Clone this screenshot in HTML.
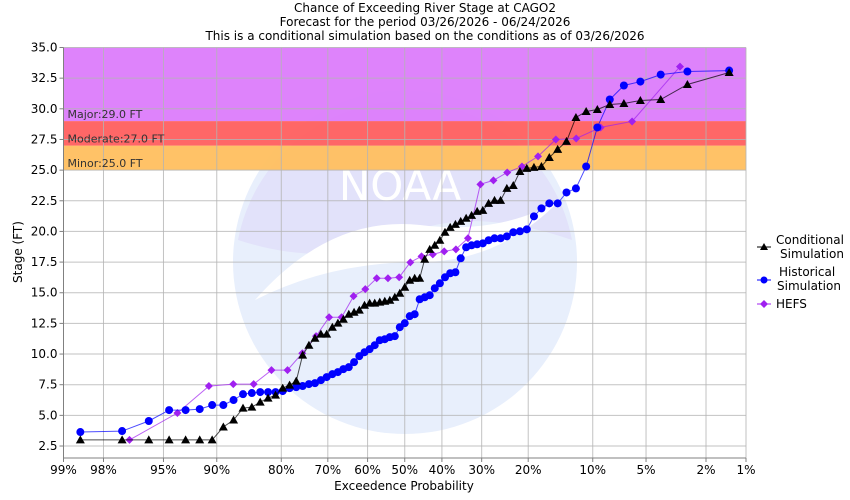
<!DOCTYPE html>
<html><head><meta charset="utf-8"><style>
html,body{margin:0;padding:0;background:#fff;}
svg{display:block;font-family:"DejaVu Sans","Liberation Sans",sans-serif;}
</style></head><body>
<svg id="chart" width="850" height="500" viewBox="0 0 850 500">
<g font-size="12" text-anchor="middle" fill="#000">
<text x="425" y="12">Chance of Exceeding River Stage at CAGO2</text>
<text x="425" y="26">Forecast for the period 03/26/2026 - 06/24/2026</text>
<text x="425" y="40">This is a conditional simulation based on the conditions as of 03/26/2026</text>
</g>
<g id="plot"></g>
<text x="404" y="490" font-size="12" text-anchor="middle">Exceedence Probability</text>
<text transform="translate(22,252) rotate(-90)" font-size="12" text-anchor="middle">Stage (FT)</text>
<g font-size="12" fill="#000">
<g>
<line x1="757" y1="247" x2="771" y2="247" stroke="#000"/>
<path d="M764,243 L768,250 L760,250 Z" fill="#000"/>
<text x="776" y="244">Conditional</text><text x="780" y="258">Simulation</text></g>
<g>
<line x1="757" y1="280" x2="771" y2="280" stroke="#0000ff"/>
<circle cx="764" cy="280" r="3.5" fill="#0000ff"/>
<text x="779" y="276">Historical</text><text x="777" y="290">Simulation</text></g>
<g>
<line x1="757" y1="304" x2="771" y2="304" stroke="#a020f0"/>
<path d="M764,300 L768,304 L764,308 L760,304 Z" fill="#a020f0"/>
<text x="776" y="308">HEFS</text></g>
</g>
</svg>
<script>
const xTickLabels = ["99%","98%","95%","90%","80%","70%","60%","50%","40%","30%","20%","10%","5%","2%","1%"];
const xTickValues = [99,98,95,90,80,70,60,50,40,30,20,10,5,2,1];
const yTickValues = [2.5,5,7.5,10,12.5,15,17.5,20,22.5,25,27.5,30,32.5,35];
const floodLevels = [25,27,29];
const floodNames = ["Minor","Moderate","Major"];
const condProb = [98.65,97.30,95.95,94.59,93.24,91.89,90.54,89.19,87.84,86.49,85.14,83.78,82.43,81.08,79.73,78.38,77.03,75.68,74.32,72.97,71.62,70.27,68.92,67.57,66.22,64.86,63.51,62.16,60.81,59.46,58.11,56.76,55.41,54.05,52.70,51.35,50.00,48.65,47.30,45.95,44.59,43.24,41.89,40.54,39.19,37.84,36.49,35.14,33.78,32.43,31.08,29.73,28.38,27.03,25.68,24.32,22.97,21.62,20.27,18.92,17.57,16.22,14.86,13.51,12.16,10.81,9.46,8.11,6.76,5.41,4.05,2.70,1.35];
const condStage = [3.0,3.0,3.0,3.0,3.0,3.0,3.0,4.05,4.62,5.59,5.67,6.08,6.41,6.65,7.22,7.47,7.79,9.91,10.72,11.29,11.62,11.62,12.19,12.52,12.84,13.25,13.41,13.58,13.98,14.15,14.15,14.23,14.31,14.39,14.63,14.96,15.45,16.02,16.18,16.18,17.73,18.54,18.87,19.28,19.93,20.33,20.58,20.82,21.07,21.31,21.64,21.72,22.29,22.53,22.53,23.51,23.75,24.89,25.14,25.22,25.30,26.03,26.69,27.34,29.29,29.78,29.94,30.35,30.43,30.68,30.76,31.98,32.96];
const histProb = condProb.slice();
const histStage = [3.64,3.72,4.54,5.43,5.43,5.51,5.84,5.84,6.25,6.73,6.82,6.90,6.90,6.90,6.98,7.22,7.30,7.39,7.55,7.63,7.87,8.12,8.36,8.53,8.77,8.93,9.34,9.83,10.15,10.40,10.72,11.13,11.21,11.38,11.46,12.19,12.52,13.09,13.25,14.47,14.63,14.80,15.37,15.77,16.26,16.59,16.67,17.81,18.71,18.87,18.95,19.03,19.28,19.44,19.44,19.60,19.93,20.01,20.17,21.23,21.88,22.29,22.29,23.18,23.51,25.30,28.48,30.76,31.90,32.22,32.79,33.04,33.12];
const hefsProb = [96.97,93.94,90.91,87.88,84.85,81.82,78.79,75.76,72.73,69.70,66.67,63.64,60.61,57.58,54.55,51.52,48.48,45.45,42.42,39.39,36.36,33.33,30.30,27.27,24.24,21.21,18.18,15.15,12.12,9.09,6.06,3.03];
const hefsStage = [3.0,5.19,7.39,7.55,7.55,8.69,8.69,10.07,11.46,13.00,13.00,14.72,15.29,16.18,16.18,16.26,17.48,17.97,18.13,18.37,18.54,19.44,23.84,24.16,24.81,25.30,26.12,27.50,27.58,28.48,28.97,33.44];

const NS='http://www.w3.org/2000/svg';
const L=63.5,R=746,T=47.5,B=458;
const yMin=2.5-(458-446)/12.28, yMax=35;
function invNorm(p){
 const a=[-39.69683028665376,220.9460984245205,-275.9285104469687,138.357751867269,-30.66479806614716,2.506628277459239];
 const b=[-54.47609879822406,161.5858368580409,-155.6989798598866,66.80131188771972,-13.28068155288572];
 const c=[-0.007784894002430293,-0.3223964580411365,-2.400758277161838,-2.549732539343734,4.374664141464968,2.938163982698783];
 const d=[0.007784695709041462,0.3224671290700398,2.445134137142996,3.754408661907416];
 let q,r;
 if(p<0.02425){q=Math.sqrt(-2*Math.log(p));return (((((c[0]*q+c[1])*q+c[2])*q+c[3])*q+c[4])*q+c[5])/((((d[0]*q+d[1])*q+d[2])*q+d[3])*q+1);}
 if(p>1-0.02425){q=Math.sqrt(-2*Math.log(1-p));return -(((((c[0]*q+c[1])*q+c[2])*q+c[3])*q+c[4])*q+c[5])/((((d[0]*q+d[1])*q+d[2])*q+d[3])*q+1);}
 q=p-0.5;r=q*q;return (((((a[0]*r+a[1])*r+a[2])*r+a[3])*r+a[4])*r+a[5])*q/(((((b[0]*r+b[1])*r+b[2])*r+b[3])*r+b[4])*r+1);
}
const zMax=invNorm(0.99);
function xs(pct){const z=invNorm(pct/100);return L+(zMax-z)/(2*zMax)*(R-L);}
function ys(v){return B-(v-yMin)/(yMax-yMin)*(B-T);}
function mk(tag,attrs,parent){const e=document.createElementNS(NS,tag);for(const k in attrs)e.setAttribute(k,attrs[k]);(parent||plot).appendChild(e);return e;}
const plot=document.getElementById('plot');

const wm=mk('g',{});


mk('circle',{cx:405,cy:262,r:172,fill:'#e8effc'},wm);
mk('path',{d:'M238,240 A170,170 0 0 1 572,240 Q470,205 405,235 Q330,270 238,240 Z',fill:'#e2e2fa'},wm);
mk('path',{d:'M255,300 Q330,215 420,225 Q500,235 560,200 Q500,262 420,262 Q330,262 255,300 Z',fill:'#fff'},wm);
const nt=mk('text',{x:400,y:200,'font-size':42,'font-weight':'normal',fill:'#fff','text-anchor':'middle'},wm);nt.textContent='NOAA';



const bandColors=['#ffbf5f','#ff5f5f','#dc7cfb'];
for(let i=0;i<floodLevels.length;i++){
 const top=i<floodLevels.length-1?floodLevels[i+1]:yMax;
 const r=mk('rect',{x:L,y:ys(top),width:R-L,height:ys(floodLevels[i])-ys(top),fill:bandColors[i],opacity:0.95});
 
 
}
for(const v of yTickValues){const g=mk('line',{x1:L,x2:R,y1:ys(v),y2:ys(v),stroke:'#b4b4b4','stroke-width':1,opacity:0.8});
 
 }
for(const v of xTickValues){const g=mk('line',{x1:xs(v),x2:xs(v),y1:T,y2:B,stroke:'#b4b4b4','stroke-width':1,opacity:0.8});
 
 }
for(let i=0;i<floodLevels.length;i++){const t=mk('text',{x:L+4,y:ys(floodLevels[i])-3,'font-size':11,fill:'#333'});
 t.textContent=floodNames[i]+':'+floodLevels[i].toFixed(1)+' FT';
 
 }
const ax=mk('path',{d:`M${L},${T} L${L},${B} L${R},${B}`,fill:'none',stroke:'#808080'});


for(const v of yTickValues){const y=ys(v);mk('line',{x1:L-4,x2:L,y1:y,y2:y,stroke:'#808080'});
 const t=mk('text',{x:L-6,y:y+4,'font-size':12,'text-anchor':'end',fill:'#000'});t.textContent=v.toFixed(1);
 
 }
for(let i=0;i<xTickValues.length;i++){const x=xs(xTickValues[i]);mk('line',{x1:x,x2:x,y1:B,y2:B+4,stroke:'#808080'});
 const t=mk('text',{x:x,y:B+16,'font-size':12,'text-anchor':'middle',fill:'#000'});t.textContent=xTickLabels[i];
 
 }
function series(prob,stage,color,shape,name){
 const g=mk('g',{});
 
 
 const pts=prob.map((p,i)=>xs(p).toFixed(1)+','+ys(stage[i]).toFixed(1)).join(' ');
 const pl=mk('polyline',{points:pts,fill:'none',stroke:color,'stroke-width':1,opacity:0.7},g);
 
 
 prob.forEach((p,i)=>{const x=xs(p),y=ys(stage[i]);let m;
  if(shape==='tri')m=mk('path',{d:`M${x},${y-4.5} L${x+4.5},${y+3.5} L${x-4.5},${y+3.5} Z`,fill:color},g);
  else if(shape==='circ')m=mk('circle',{cx:x,cy:y,r:4,fill:color},g);
  else m=mk('path',{d:`M${x},${y-4} L${x+4},${y} L${x},${y+4} L${x-4},${y} Z`,fill:color},g);
  
  
 });
}
series(hefsProb,hefsStage,'#a020f0','dia','hefs');
series(histProb,histStage,'#0000ff','circ','historical');
series(condProb,condStage,'#000000','tri','conditional');
</script>
</body></html>
